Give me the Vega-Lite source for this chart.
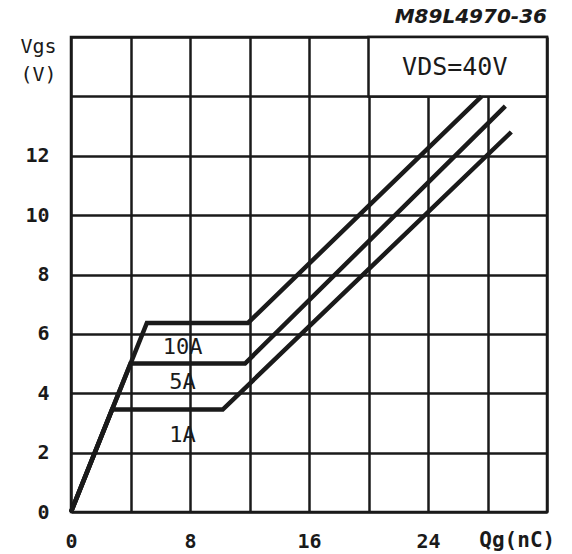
{
  "$schema": "https://vega.github.io/schema/vega-lite/v6.json",
  "width": 476,
  "height": 475,
  "autosize": "none",
  "padding": {"left": 71, "top": 37, "right": 25, "bottom": 42},
  "background": "white",
  "config": {
    "view": {"stroke": "#1a1a1a", "strokeWidth": 2.5},
    "font": "DejaVu Sans Mono"
  },
  "title": {
    "text": "M89L4970-36",
    "anchor": "end",
    "frame": "group",
    "font": "DejaVu Sans",
    "fontSize": 20,
    "fontStyle": "italic",
    "fontWeight": "bold",
    "color": "#1a1a1a",
    "offset": 9
  },
  "datasets": {
    "curves": [
      {"s": "10A", "q": 0, "v": 0},
      {"s": "10A", "q": 5.1, "v": 6.37},
      {"s": "10A", "q": 11.9, "v": 6.37},
      {"s": "10A", "q": 27.6, "v": 14.0},
      {"s": "5A", "q": 0, "v": 0},
      {"s": "5A", "q": 4.0, "v": 5.0},
      {"s": "5A", "q": 11.7, "v": 5.0},
      {"s": "5A", "q": 29.2, "v": 13.67},
      {"s": "1A", "q": 0, "v": 0},
      {"s": "1A", "q": 2.76, "v": 3.45},
      {"s": "1A", "q": 10.2, "v": 3.45},
      {"s": "1A", "q": 29.6, "v": 12.8}
    ],
    "curveLabels": [
      {"label": "10A", "q": 7.5, "v": 5.56},
      {"label": "5A", "q": 7.5, "v": 4.38},
      {"label": "1A", "q": 7.5, "v": 2.6}
    ],
    "box": [
      {"q": 20, "q2": 32, "v": 14, "v2": 16, "label": "VDS=40V", "tq": 25.8, "tv": 15.0}
    ],
    "xname": [
      {"label": "Qg(nC)", "q": 30.0, "v": -0.98}
    ]
  },
  "encoding": {
    "x": {
      "field": "q",
      "type": "quantitative",
      "scale": {"domain": [0, 32], "nice": false, "zero": false},
      "axis": {
        "title": null,
        "values": [0, 4, 8, 12, 16, 20, 24, 28, 32],
        "labelExpr": "(datum.value % 8 == 0 && datum.value < 32) ? datum.label : ''",
        "labelFlush": false,
        "grid": true,
        "gridColor": "#1a1a1a",
        "gridWidth": 2.5,
        "gridOpacity": 1,
        "ticks": false,
        "tickSize": 0,
        "domain": false,
        "labelPadding": 19,
        "labelFont": "DejaVu Sans Mono",
        "labelFontSize": 20,
        "labelFontWeight": "bold",
        "labelColor": "#1a1a1a"
      }
    },
    "y": {
      "field": "v",
      "type": "quantitative",
      "scale": {"domain": [0, 16], "nice": false, "zero": false},
      "axis": {
        "title": ["Vgs", "(V)"],
        "titleAngle": 0,
        "titleAlign": "center",
        "titleBaseline": "top",
        "titleX": -33,
        "titleY": -1,
        "titleFont": "DejaVu Sans Mono",
        "titleFontSize": 20,
        "titleFontWeight": "normal",
        "titleLineHeight": 28,
        "titleColor": "#1a1a1a",
        "values": [0, 2, 4, 6, 8, 10, 12, 14, 16],
        "labelExpr": "datum.value <= 12 ? datum.label : ''",
        "labelFlush": false,
        "grid": true,
        "gridColor": "#1a1a1a",
        "gridWidth": 2.5,
        "gridOpacity": 1,
        "ticks": false,
        "tickSize": 0,
        "domain": false,
        "labelPadding": 22,
        "labelFont": "DejaVu Sans Mono",
        "labelFontSize": 20,
        "labelFontWeight": "bold",
        "labelColor": "#1a1a1a"
      }
    }
  },
  "layer": [
    {
      "data": {"name": "box"},
      "mark": {"type": "rect", "fill": "white", "stroke": "#1a1a1a", "strokeWidth": 2.5},
      "encoding": {
        "x2": {"field": "q2"},
        "y2": {"field": "v2"}
      }
    },
    {
      "data": {"name": "box"},
      "mark": {"type": "text", "fontSize": 25, "font": "DejaVu Sans Mono", "color": "#1a1a1a", "align": "center", "baseline": "middle"},
      "encoding": {
        "x": {"field": "tq", "type": "quantitative"},
        "y": {"field": "tv", "type": "quantitative"},
        "text": {"field": "label"}
      }
    },
    {
      "data": {"name": "curves"},
      "mark": {"type": "line", "strokeWidth": 4.5, "color": "#1a1a1a", "strokeJoin": "miter", "strokeCap": "butt"},
      "encoding": {
        "detail": {"field": "s"}
      }
    },
    {
      "data": {"name": "curveLabels"},
      "mark": {"type": "text", "fontSize": 22, "font": "DejaVu Sans Mono", "color": "#1a1a1a", "align": "center", "baseline": "middle"},
      "encoding": {
        "text": {"field": "label"}
      }
    },
    {
      "data": {"name": "xname"},
      "mark": {"type": "text", "fontSize": 21, "fontWeight": "bold", "font": "DejaVu Sans Mono", "color": "#1a1a1a", "align": "center", "baseline": "middle", "clip": false},
      "encoding": {
        "text": {"field": "label"}
      }
    }
  ]
}
